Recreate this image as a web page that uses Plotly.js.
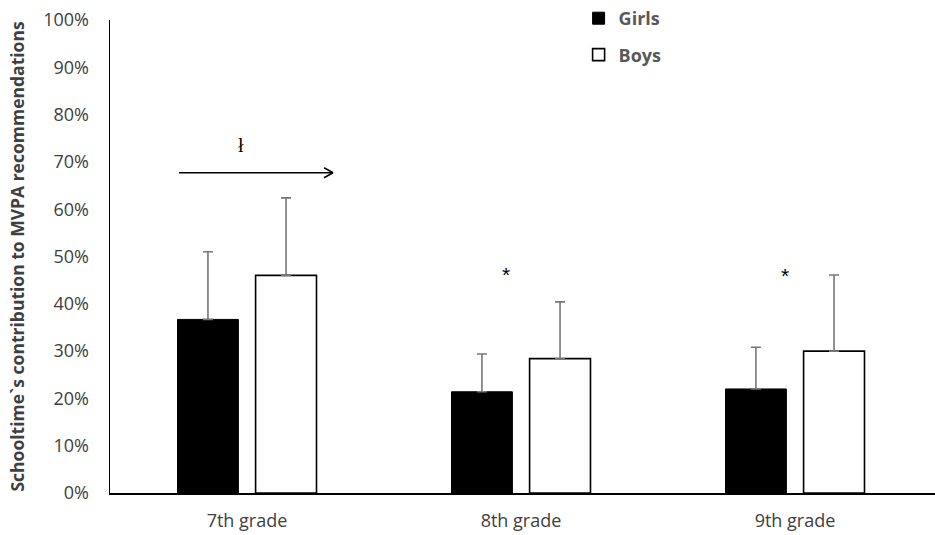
<!DOCTYPE html>
<html>
<head>
<meta charset="utf-8">
<script src="https://cdn.plot.ly/plotly-3.0.1.min.js"></script>
<style>html,body{margin:0;padding:0;background:#fff;}#chart{width:935px;height:535px;}</style>
</head>
<body>
<div id="chart"></div>
<script>
// Data
const grades = ['7th grade', '8th grade', '9th grade'];
const girlsValues = [36.7, 21.4, 22.0];
const girlsErrors = [14.3, 8.0, 8.8];
const boysValues = [46.0, 28.4, 30.0];
const boysErrors = [16.4, 12.0, 16.1];
const yTickValues = [0, 10, 20, 30, 40, 50, 60, 70, 80, 90, 100];
// significance markers: category position, y position, label
const starX = [0.947, 1.964];
const starY = [46.2, 46.0];
const starLabel = ['*', '*'];
const trendArrowX = [-0.248, 0.314];
const trendArrowY = 67.7;
const trendLabel = 'ł';
const trendLabelX = -0.022;
const trendLabelY = 73.6;

const tickFont = {family: 'Open Sans, sans-serif', size: 18, color: '#404040'};

const traces = [
  {
    type: 'bar', name: 'Girls', x: grades, y: girlsValues,
    marker: {color: '#000000', line: {color: '#000000', width: 1}},
    error_y: {type: 'data', symmetric: false, array: girlsErrors, arrayminus: girlsErrors.map(() => 0),
      color: '#777777', thickness: 1.6, width: 5},
    legendgroup: 'g', hoverinfo: 'x+y'
  },
  {
    type: 'bar', name: 'Boys', x: grades, y: boysValues,
    marker: {color: '#ffffff', line: {color: '#000000', width: 1.6}},
    error_y: {type: 'data', symmetric: false, array: boysErrors, arrayminus: boysErrors.map(() => 0),
      color: '#777777', thickness: 1.6, width: 5},
    legendgroup: 'b', hoverinfo: 'x+y'
  }
];

const annotations = starX.map((x, i) => ({
  x: x, y: starY[i], xref: 'x', yref: 'y', text: starLabel[i], showarrow: false,
  font: {family: 'Liberation Sans, sans-serif', size: 21, color: '#000000'}
}));
annotations.push({
  x: trendLabelX, y: trendLabelY, xref: 'x', yref: 'y', text: trendLabel, showarrow: false,
  font: {family: 'Liberation Serif, serif', size: 20, color: '#000000'}
});

const shapes = [
  {type: 'line', xref: 'x', yref: 'y', x0: trendArrowX[0], x1: trendArrowX[1], y0: trendArrowY, y1: trendArrowY,
    line: {color: '#000', width: 1.5}},
  {type: 'line', xref: 'x', yref: 'y', xsizemode: 'pixel', ysizemode: 'pixel',
    xanchor: trendArrowX[1], yanchor: trendArrowY, x0: -9, y0: 5, x1: 0, y1: 0, line: {color: '#000', width: 1.5}},
  {type: 'line', xref: 'x', yref: 'y', xsizemode: 'pixel', ysizemode: 'pixel',
    xanchor: trendArrowX[1], yanchor: trendArrowY, x0: -9, y0: -5, x1: 0, y1: 0, line: {color: '#000', width: 1.5}}
];

const layout = {
  width: 935, height: 535,
  margin: {l: 110, r: 0, t: 20, b: 42},
  paper_bgcolor: '#ffffff', plot_bgcolor: '#ffffff',
  barmode: 'group', bargap: 0.43, bargroupgap: 0.22,
  showlegend: true,
  legend: {x: 0.568, xanchor: 'left', y: 1.043, yanchor: 'top', tracegroupgap: 10,
    font: {family: 'Open Sans, sans-serif', size: 18, color: '#595959', weight: 'bold'},
    bgcolor: 'rgba(0,0,0,0)'},
  xaxis: {
    type: 'category', range: [-0.5, 2.511], showgrid: false, zeroline: false,
    showline: true, linecolor: '#000', linewidth: 1.5,
    ticks: 'outside', ticklen: 11, tickcolor: 'rgba(0,0,0,0)', tickfont: tickFont, fixedrange: true
  },
  yaxis: {
    range: [0, 100], tickvals: yTickValues, ticktext: yTickValues.map(v => v + '%'),
    showgrid: false, zeroline: false, showline: true, linecolor: '#000', linewidth: 1.5,
    ticks: 'outside', ticklen: 16, tickcolor: 'rgba(0,0,0,0)', tickfont: tickFont,
    title: {text: 'Schooltime`s contribution to MVPA recommendations', standoff: 14,
      font: {family: 'Open Sans, sans-serif', size: 17.5, color: '#404040', weight: 'bold'}},
    fixedrange: true
  },
  annotations: annotations,
  shapes: shapes
};

Plotly.newPlot('chart', traces, layout, {displayModeBar: false, staticPlot: true});
</script>
</body>
</html>
